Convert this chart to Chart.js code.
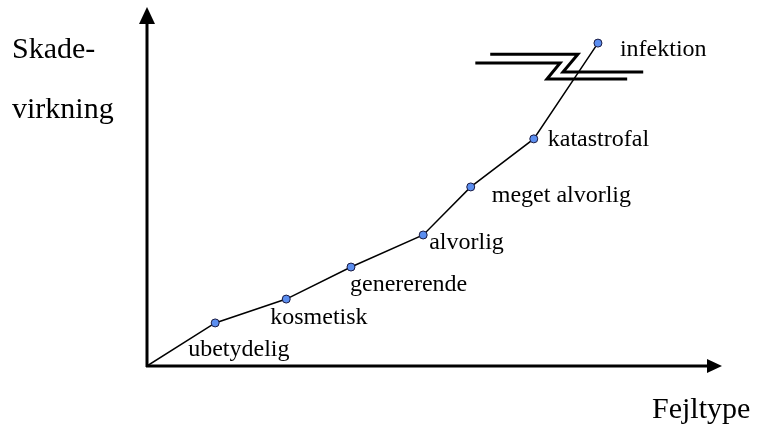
<!DOCTYPE html>
<html>
<head>
<meta charset="utf-8">
<script src="https://cdn.jsdelivr.net/npm/chart.js@4/dist/chart.umd.min.js"></script>
<style>
  body { margin: 0; background: #fff; }
  canvas { display: block; }
</style>
</head>
<body>
<canvas id="myChart" width="760" height="427"></canvas>
<script>
// fejltyper langs x-aksen og deres skadevirkning
var faultTypes = ['ubetydelig', 'kosmetisk', 'genererende', 'alvorlig', 'meget alvorlig', 'katastrofal', 'infektion'];
var faultX = [11.9, 24.3, 35.6, 48.2, 56.5, 67.5, 78.7];
var damageY = [12.1, 18.8, 27.8, 36.8, 50.3, 63.8, 90.7];
var xTitle = 'Fejltype';
var yTitle = ['Skade-', 'virkning'];

// label placement relative to each point (dx to text start, dy to text middle)
var labelOffsets = [[-27, 27], [-16, 19], [-1, 18], [6, 8], [21, 9], [14, 1], [22, 7]];

var serif = '"Liberation Serif", "Times New Roman", serif';

var points = [{ x: 0, y: 0 }];
for (var i = 0; i < faultTypes.length; i++) {
    points.push({ x: faultX[i], y: damageY[i] });
}

var decorations = {
    id: 'decorations',
    afterDraw: function (chart) {
        var ctx = chart.ctx;
        var a = chart.chartArea;
        var xs = chart.scales.x, ys = chart.scales.y;
        ctx.save();
        ctx.strokeStyle = '#000';
        ctx.fillStyle = '#000';
        ctx.lineWidth = 3;

        // axes with arrow heads
        ctx.beginPath();
        ctx.moveTo(a.left, a.bottom + 1);
        ctx.lineTo(a.left, a.top + 12);
        ctx.moveTo(a.left - 1, a.bottom);
        ctx.lineTo(a.right - 10, a.bottom);
        ctx.stroke();
        ctx.beginPath();
        ctx.moveTo(a.left, a.top - 3);
        ctx.lineTo(a.left - 8, a.top + 14);
        ctx.lineTo(a.left + 8, a.top + 14);
        ctx.closePath();
        ctx.fill();
        ctx.beginPath();
        ctx.moveTo(a.right + 2, a.bottom);
        ctx.lineTo(a.right - 13, a.bottom - 7);
        ctx.lineTo(a.right - 13, a.bottom + 7);
        ctx.closePath();
        ctx.fill();

        // axis break symbol
        var breakMarks = [
            [[59.9, 87.6], [75.2, 87.6], [72.6, 82.6], [86.6, 82.6]],
            [[57.3, 85.1], [72.1, 85.1], [69.8, 80.6], [83.8, 80.6]]
        ];
        breakMarks.forEach(function (m) {
            ctx.beginPath();
            m.forEach(function (p, k) {
                var px = xs.getPixelForValue(p[0]), py = ys.getPixelForValue(p[1]);
                if (k === 0) ctx.moveTo(px, py); else ctx.lineTo(px, py);
            });
            ctx.stroke();
        });

        // point labels
        ctx.font = '24px ' + serif;
        ctx.textBaseline = 'middle';
        ctx.textAlign = 'left';
        for (var i = 0; i < faultTypes.length; i++) {
            var px = xs.getPixelForValue(faultX[i]);
            var py = ys.getPixelForValue(damageY[i]);
            ctx.fillText(faultTypes[i], px + labelOffsets[i][0], py + labelOffsets[i][1]);
        }

        // axis titles
        ctx.font = '30px ' + serif;
        ctx.fillText(yTitle[0], 12, 50);
        ctx.fillText(yTitle[1], 12, 110);
        ctx.fillText(xTitle, 652, 410);
        ctx.restore();
    }
};

var ctx = document.getElementById('myChart').getContext('2d');
var myChart = new Chart(ctx, {
    type: 'line',
    data: {
        datasets: [{
            data: points,
            borderColor: '#000',
            borderWidth: 1.5,
            pointRadius: points.map(function (p, i) { return i === 0 ? 0 : 4; }),
            pointBackgroundColor: '#5b8ef0',
            pointBorderColor: '#1a1a40',
            pointBorderWidth: 1,
            tension: 0
        }]
    },
    options: {
        responsive: false,
        animation: false,
        layout: { padding: { left: 147, right: 40, top: 10, bottom: 61 } },
        plugins: { legend: { display: false }, tooltip: { enabled: false } },
        scales: {
            x: { type: 'linear', min: 0, max: 100, display: false },
            y: { type: 'linear', min: 0, max: 100, display: false }
        }
    },
    plugins: [decorations]
});
</script>
</body>
</html>
